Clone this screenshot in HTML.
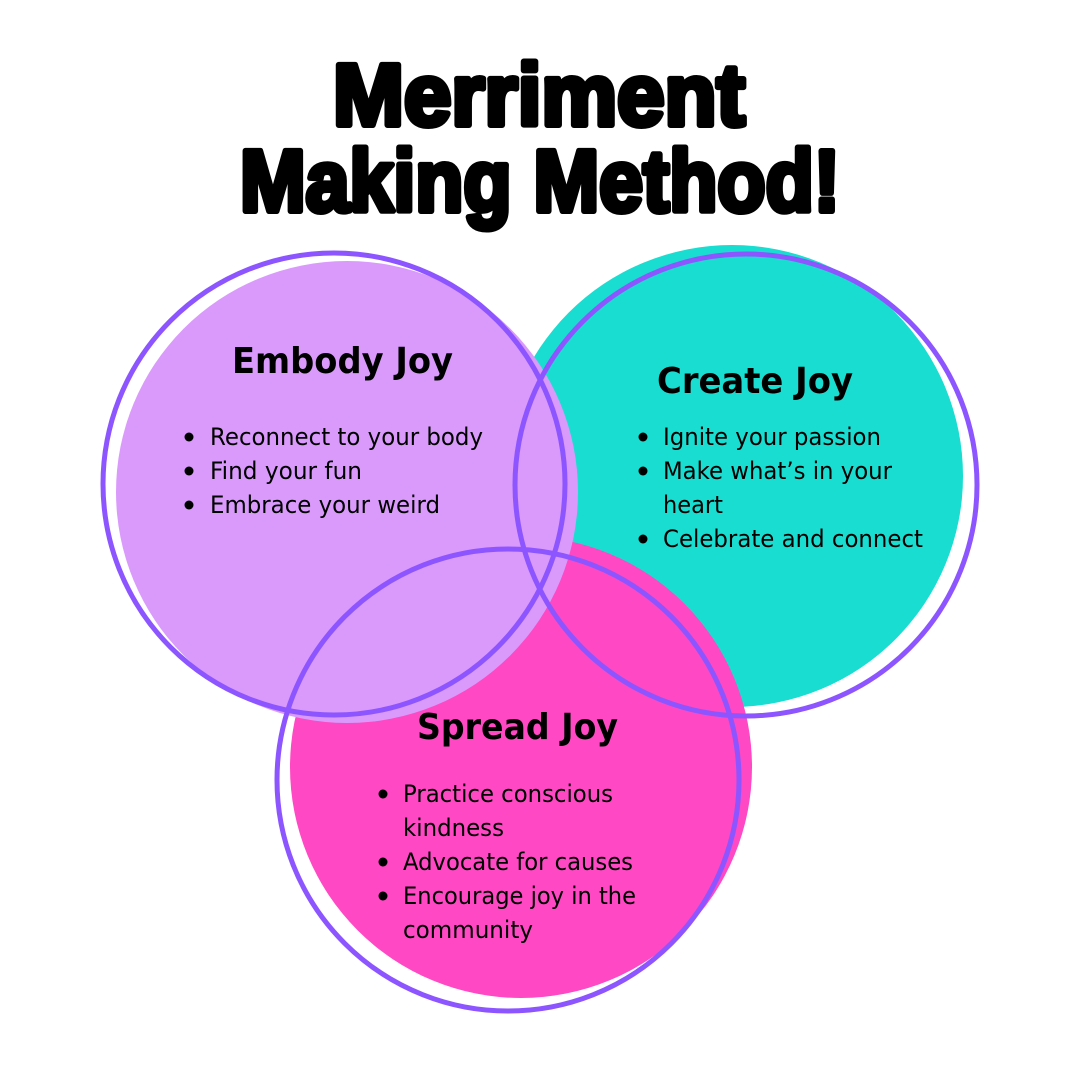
<!DOCTYPE html>
<html>
<head>
<meta charset="utf-8">
<style>
  html,body{margin:0;padding:0;background:#fff;}
  body{width:1080px;height:1080px;overflow:hidden;}
  svg{display:block;}
  .title{font-family:"Liberation Sans","DejaVu Sans",sans-serif;font-weight:bold;fill:#000;stroke:#000;stroke-width:6;stroke-linejoin:round;}
  .head{font-family:"DejaVu Sans","Liberation Sans",sans-serif;font-weight:bold;font-size:36px;fill:#000;}
  .body{font-family:"DejaVu Sans","Liberation Sans",sans-serif;font-size:24px;fill:#000;}
</style>
</head>
<body>
<svg width="1080" height="1080" viewBox="0 0 1080 1080" xmlns="http://www.w3.org/2000/svg">
  <rect width="1080" height="1080" fill="#ffffff"/>

  <!-- Title -->
  <text class="title" x="333" y="125" font-size="87" textLength="412" lengthAdjust="spacingAndGlyphs">Merriment</text>
  <text class="title" x="240" y="211" font-size="87" textLength="600" lengthAdjust="spacingAndGlyphs">Making Method!</text>

  <!-- Filled circles -->
  <circle cx="732" cy="476" r="231" fill="#19DDD0"/>
  <circle cx="521" cy="767" r="231" fill="#FF48C4"/>
  <circle cx="347" cy="492" r="231" fill="#DA9AFC"/>

  <!-- Outline circles -->
  <g fill="none" stroke="#8C55FF" stroke-width="5">
    <circle cx="334" cy="484" r="231"/>
    <circle cx="746" cy="485" r="231"/>
    <circle cx="508" cy="780" r="231"/>
  </g>

  <!-- Embody Joy -->
  <text class="head" x="232" y="373" textLength="221" lengthAdjust="spacingAndGlyphs">Embody Joy</text>
  <g fill="#000">
    <circle cx="189" cy="437" r="4.5"/>
    <circle cx="189" cy="471" r="4.5"/>
    <circle cx="189" cy="505" r="4.5"/>
  </g>
  <text class="body" x="210" y="445" textLength="273" lengthAdjust="spacingAndGlyphs">Reconnect to your body</text>
  <text class="body" x="210" y="479" textLength="152" lengthAdjust="spacingAndGlyphs">Find your fun</text>
  <text class="body" x="210" y="513" textLength="230" lengthAdjust="spacingAndGlyphs">Embrace your weird</text>

  <!-- Create Joy -->
  <text class="head" x="657" y="393" textLength="196" lengthAdjust="spacingAndGlyphs">Create Joy</text>
  <g fill="#000">
    <circle cx="643" cy="437" r="4.5"/>
    <circle cx="643" cy="471" r="4.5"/>
    <circle cx="643" cy="539" r="4.5"/>
  </g>
  <text class="body" x="663" y="445" textLength="218" lengthAdjust="spacingAndGlyphs">Ignite your passion</text>
  <text class="body" x="663" y="479" textLength="229" lengthAdjust="spacingAndGlyphs">Make what’s in your</text>
  <text class="body" x="663" y="513" textLength="60" lengthAdjust="spacingAndGlyphs">heart</text>
  <text class="body" x="663" y="547" textLength="260" lengthAdjust="spacingAndGlyphs">Celebrate and connect</text>

  <!-- Spread Joy -->
  <text class="head" x="417" y="739" textLength="201" lengthAdjust="spacingAndGlyphs">Spread Joy</text>
  <g fill="#000">
    <circle cx="383" cy="794" r="4.5"/>
    <circle cx="383" cy="862" r="4.5"/>
    <circle cx="383" cy="896" r="4.5"/>
  </g>
  <text class="body" x="403" y="802" textLength="210" lengthAdjust="spacingAndGlyphs">Practice conscious</text>
  <text class="body" x="403" y="836" textLength="101" lengthAdjust="spacingAndGlyphs">kindness</text>
  <text class="body" x="403" y="870" textLength="230" lengthAdjust="spacingAndGlyphs">Advocate for causes</text>
  <text class="body" x="403" y="904" textLength="233" lengthAdjust="spacingAndGlyphs">Encourage joy in the</text>
  <text class="body" x="403" y="938" textLength="130" lengthAdjust="spacingAndGlyphs">community</text>
</svg>
</body>
</html>
